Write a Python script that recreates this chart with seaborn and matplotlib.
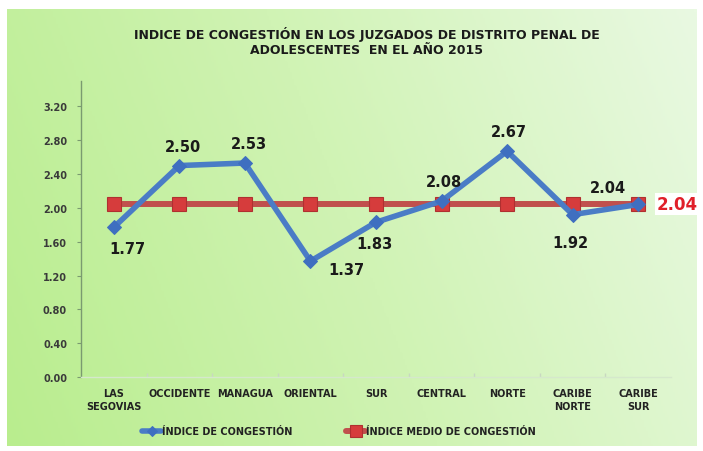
import numpy as np
import pandas as pd
import matplotlib
matplotlib.use("Agg")
import matplotlib.pyplot as plt
from matplotlib.colors import LinearSegmentedColormap
import seaborn as sns

regions = ["LAS\nSEGOVIAS", "OCCIDENTE", "MANAGUA", "ORIENTAL", "SUR",
           "CENTRAL", "NORTE", "CARIBE\nNORTE", "CARIBE\nSUR"]
indice = [1.77, 2.50, 2.53, 1.37, 1.83, 2.08, 2.67, 1.92, 2.04]
medio = [2.04] * 9
yticks = [0.0, 0.4, 0.8, 1.2, 1.6, 2.0, 2.4, 2.8, 3.2]
title = "INDICE DE CONGESTIÓN EN LOS JUZGADOS DE DISTRITO PENAL DE\nADOLESCENTES  EN EL AÑO 2015"
label_blue = "ÍNDICE DE CONGESTIÓN"
label_red = "ÍNDICE MEDIO DE CONGESTIÓN"

df = pd.DataFrame({"region": regions, "indice": indice, "medio": medio})

sns.set_theme(style="white")
plt.rcParams["font.family"] = ["DejaVu Sans"]

W, H = 703, 452
fig = plt.figure(figsize=(W / 100, H / 100), dpi=100)
fig.patch.set_facecolor("white")

# gradient background panel
bg = fig.add_axes([7 / W, 5 / H, 690 / W, 437 / H])
cmap = LinearSegmentedColormap.from_list("g", ["#b9ed8e", "#d0f3b4", "#e9f9e2"])
gx = np.linspace(0, 1, 300)
gy = np.linspace(0, 1, 200)
X, Y = np.meshgrid(gx, gy)
grad = 0.8 * X + 0.2 * (1 - Y)
bg.imshow(grad, cmap=cmap, aspect="auto", extent=[0, 1, 0, 1], origin="upper",
          vmin=0, vmax=1)
bg.set_axis_off()

ax = fig.add_axes([81 / W, 1 - 378 / H, 590 / W, 296 / H])
ax.patch.set_alpha(0)

blue = "#4a7cc6"
red = "#c0504d"

sns.lineplot(data=df, x="region", y="medio", ax=ax, color=red, linewidth=4.3,
             marker="s", markersize=10, markerfacecolor="#d63c3c",
             markeredgecolor="#b03030", markeredgewidth=0.8, sort=False,
             label=label_red, legend=False)
sns.lineplot(data=df, x="region", y="indice", ax=ax, color=blue, linewidth=4,
             marker="D", markersize=7, markerfacecolor="#3f6fc0",
             markeredgecolor="#3f6fc0", sort=False, label=label_blue, legend=False)

ax.set_xlim(-0.5, len(regions) - 0.5)
ax.set_ylim(0, 3.5)
ax.set_yticks(yticks)
ax.set_yticklabels([f"{v:.2f}" for v in yticks], fontsize=7, fontweight="bold",
                   color="#3a3a3a")
ax.set_xticks(range(len(regions)))
ax.set_xticklabels(regions, fontsize=7, fontweight="bold", color="#222222",
                   linespacing=1.4)
ax.set_xlabel("")
ax.set_ylabel("")
ax.tick_params(axis="y", length=3, width=0.8, color="#7a9a70", pad=7, left=True)
ax.tick_params(axis="x", length=0, pad=8)
ax.set_xticks(np.arange(0.5, len(regions) - 0.5, 1), minor=True)
ax.tick_params(axis="x", which="minor", length=3, direction="in", color="#c8d8c0",
               bottom=True)
for s in ["top", "right"]:
    ax.spines[s].set_visible(False)
ax.spines["left"].set_color("#7a9a70")
ax.spines["left"].set_linewidth(1.0)
ax.spines["bottom"].set_color("#d5e8cc")
ax.spines["bottom"].set_linewidth(1.0)
ax.grid(False)

# data labels (offsets in points)
offsets = [(10, -15), (3, 14), (3, 14), (26, -6), (-1, -15),
           (2, 14), (1, 14), (-2, -20), (-22, 12)]
for i, (v, off) in enumerate(zip(indice, offsets)):
    ax.annotate(f"{v:.2f}", (i, v), xytext=off, textcoords="offset points",
                ha="center", va="center", fontsize=10.5, fontweight="bold",
                color="#1a1a1a")

ax.annotate(f"{medio[-1]:.2f}", (len(regions) - 1, medio[-1]), xytext=(28, 0),
            textcoords="offset points", ha="center", va="center", fontsize=12,
            fontweight="bold", color="#e0202a", annotation_clip=False,
            bbox=dict(boxstyle="square,pad=0.12", fc="white", ec="none"))

fig.text(367 / W, 1 - 42 / H, title, ha="center", va="center", fontsize=9,
         fontweight="bold", color="#1a1a1a", linespacing=1.15)

handles, labels = ax.get_legend_handles_labels()
order = [1, 0]
leg = fig.legend([handles[i] for i in order], [labels[i] for i in order],
                 loc="center", bbox_to_anchor=(339 / W, 1 - 432 / H), ncol=2,
                 frameon=False, fontsize=7, handlelength=2.0, handletextpad=0.1,
                 columnspacing=5.5, markerscale=0.8)
for t in leg.get_texts():
    t.set_fontweight("bold")
    t.set_color("#222222")

fig.savefig("out.png", dpi=100)
